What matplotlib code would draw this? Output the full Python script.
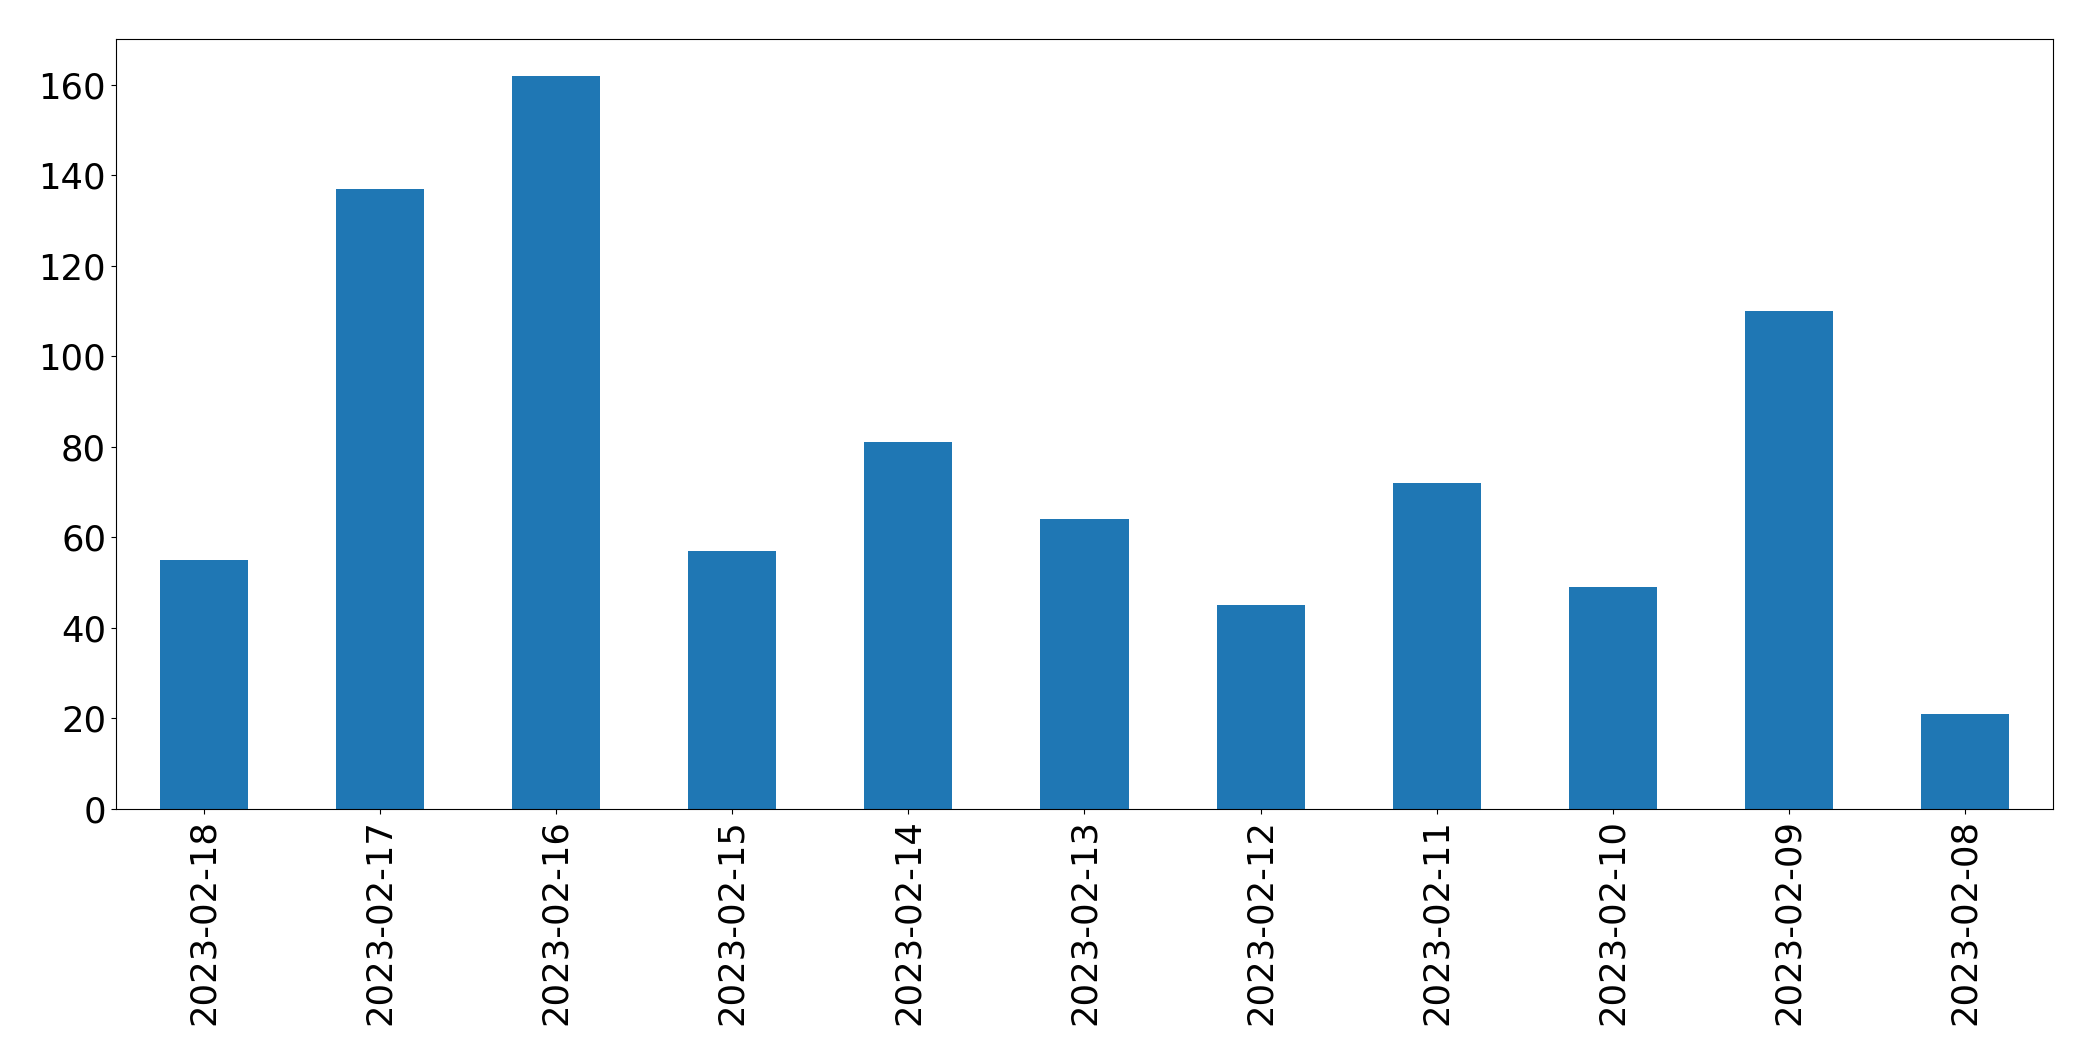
#!/usr/bin/env python3

import pandas as pd
import matplotlib
matplotlib.use('Agg')
import matplotlib.pyplot as plt

# daily counts, newest first
dates = ['2023-02-18', '2023-02-17', '2023-02-16', '2023-02-15', '2023-02-14',
         '2023-02-13', '2023-02-12', '2023-02-11', '2023-02-10', '2023-02-09',
         '2023-02-08']
counts = [55, 137, 162, 57, 81, 64, 45, 72, 49, 110, 21]

plt.rc('font', size=25.5)

s = pd.Series(counts, index=dates)

fig = plt.figure(figsize=(20.93, 10.61), dpi=100)
ax = fig.add_axes([0.0554, 0.2375, 0.9255, 0.7257])
s.plot(kind='bar', ax=ax, color='#1f77b4')
ax.tick_params(axis='both', labelsize=25.5)

fig.savefig('out.png', dpi=100)
